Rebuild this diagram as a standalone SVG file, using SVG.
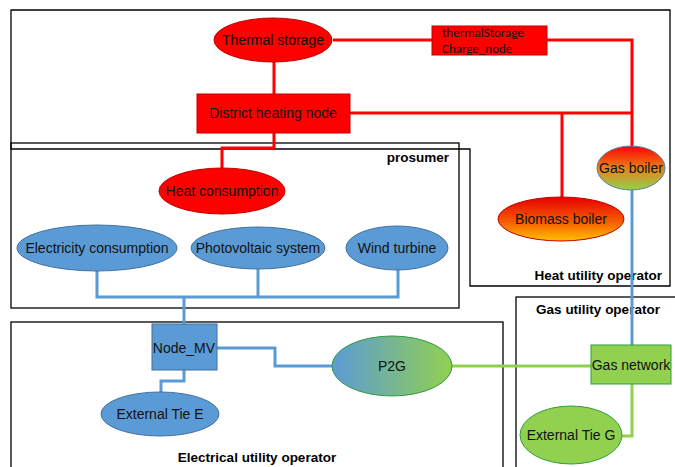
<svg xmlns="http://www.w3.org/2000/svg" width="675" height="467" viewBox="0 0 675 467">
<style>
.box{fill:none;stroke:#000;stroke-width:1.3}
.lbl{font-family:"Liberation Sans",Arial,sans-serif;font-size:13.5px;font-weight:bold;fill:#000}
.t{font-family:"Liberation Sans",Arial,sans-serif;font-size:14px;fill:#111;text-anchor:middle;dominant-baseline:central}
.red{fill:#FF0000;stroke:#C00000;stroke-width:1}
.blue{fill:#5B9BD5;stroke:#41719C;stroke-width:1}
.green{fill:#92D050;stroke:#2E9E3E;stroke-width:1}
.cr{fill:none;stroke:#FF0000;stroke-width:3}
.cb{fill:none;stroke:#5B9BD5;stroke-width:3}
.cg{fill:none;stroke:#92D050;stroke-width:3}
.cn{font-family:Carlito,"Liberation Sans",Arial,sans-serif;font-size:13px;fill:#111}
</style>
<defs>
<linearGradient id="gP2G" x1="0" y1="0" x2="1" y2="0"><stop offset="0" stop-color="#5B9BD5"/><stop offset="1" stop-color="#92D050"/></linearGradient>
<linearGradient id="gGB" x1="0" y1="0" x2="0" y2="1"><stop offset="0" stop-color="#FF0000"/><stop offset="0.5" stop-color="#E8801A"/><stop offset="1" stop-color="#92D050"/></linearGradient>
<linearGradient id="gBB" x1="0" y1="0" x2="0" y2="1"><stop offset="0" stop-color="#E80000"/><stop offset="0.55" stop-color="#F55A00"/><stop offset="1" stop-color="#FFC000"/></linearGradient>
</defs>
<rect width="675" height="467" fill="#fff"/>
<g id="areas">
<path class="box" d="M11,10 H670 V286 H470 V149 H11 Z"/>
<rect class="box" x="11" y="143" width="448" height="165"/>
<rect class="box" x="11" y="322" width="492" height="150"/>
<rect class="box" x="516" y="297" width="165" height="175"/>
<text class="lbl" x="449" y="162" text-anchor="end">prosumer</text>
<text class="lbl" x="662" y="280" text-anchor="end">Heat utility operator</text>
<text class="lbl" x="598" y="314" text-anchor="middle">Gas utility operator</text>
<text class="lbl" x="257" y="462" text-anchor="middle">Electrical utility operator</text>
</g>
<g id="connectors">
<path class="cr" d="M333,40 H432"/>
<path class="cr" d="M547,40 H632 V146"/>
<path class="cr" d="M274,62 V94"/>
<path class="cr" d="M350,113 H632"/>
<path class="cr" d="M562,113 V197"/>
<path class="cr" d="M274,133 V148 H222 V168"/>
<path class="cb" d="M97,270 V297 H398 V270"/>
<path class="cb" d="M258,269 V297"/>
<path class="cb" d="M184,297 V324"/>
<path class="cb" d="M217,348 H275 V366 H332"/>
<path class="cb" d="M184,370 V381 H161 V392"/>
<path class="cb" d="M632,190 V345"/>
<path class="cg" d="M452,366 H591"/>
<path class="cg" d="M632,384 V436 H622"/>
</g>
<g id="thermal-storage"><ellipse class="red" cx="273" cy="40" rx="59" ry="22"/><text class="t" x="273" y="40">Thermal storage</text></g>
<g id="charge-node"><rect class="red" x="432" y="26" width="115" height="29"/><text class="cn" x="442" y="37">thermalStorage</text><text class="cn" x="442" y="53">Charge_node</text></g>
<g id="district-heating-node"><rect class="red" x="197" y="94" width="153" height="39"/><text class="t" x="273" y="113">District heating node</text></g>
<g id="gas-boiler"><ellipse cx="631" cy="168" rx="34" ry="22" fill="url(#gGB)" stroke="#5B7FA8" stroke-width="1"/><text class="t" x="631" y="168">Gas boiler</text></g>
<g id="biomass-boiler"><ellipse cx="561" cy="219" rx="63" ry="22" fill="url(#gBB)" stroke="#C00000" stroke-width="1"/><text class="t" x="561" y="219">Biomass boiler</text></g>
<g id="heat-consumption"><ellipse class="red" cx="222" cy="191" rx="63" ry="23"/><text class="t" x="222" y="191">Heat consumption</text></g>
<g id="electricity-consumption"><ellipse class="blue" cx="97" cy="248" rx="80" ry="23"/><text class="t" x="97" y="248">Electricity consumption</text></g>
<g id="photovoltaic-system"><ellipse class="blue" cx="258" cy="248" rx="67" ry="21"/><text class="t" x="258" y="248">Photovoltaic system</text></g>
<g id="wind-turbine"><ellipse class="blue" cx="397" cy="248" rx="51" ry="22"/><text class="t" x="397" y="248">Wind turbine</text></g>
<g id="node-mv"><rect class="blue" x="152" y="324" width="65" height="46"/><text class="t" x="184" y="348">Node_MV</text></g>
<g id="external-tie-e"><ellipse class="blue" cx="160" cy="414" rx="59" ry="22"/><text class="t" x="160" y="414">External Tie E</text></g>
<g id="p2g"><ellipse cx="392" cy="366" rx="60" ry="30" fill="url(#gP2G)" stroke="#2E9E3E" stroke-width="1"/><text class="t" x="392" y="366">P2G</text></g>
<g id="gas-network"><rect class="green" x="591" y="345" width="80" height="39"/><text class="t" x="631" y="365">Gas network</text></g>
<g id="external-tie-g"><ellipse class="green" cx="571" cy="435" rx="51" ry="29"/><text class="t" x="571" y="435">External Tie G</text></g>
</svg>
